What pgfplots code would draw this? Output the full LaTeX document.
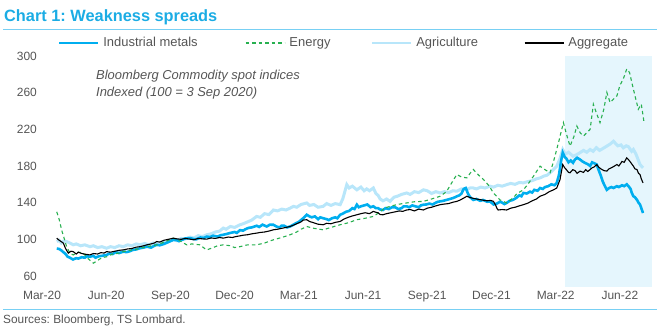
\documentclass[border=0pt]{standalone}
\usepackage{fontspec}
\setmainfont{Liberation Sans}
\usepackage{pgfplots}
\pgfplotsset{compat=1.18}
\definecolor{titleblue}{RGB}{27,172,228}
\definecolor{rulebl}{RGB}{120,208,244}
\definecolor{metals}{RGB}{0,174,239}
\definecolor{energy}{RGB}{40,176,80}
\definecolor{agri}{RGB}{184,230,250}
\definecolor{shade}{RGB}{229,246,253}
\definecolor{txt}{RGB}{85,85,85}
\begin{document}
\frenchspacing
\begin{tikzpicture}
\useasboundingbox (0,0) rectangle (660bp,327bp);
\node[anchor=base west, inner sep=0pt, text=titleblue, font=\fontsize{16.4}{20}\selectfont\bfseries] at (4bp,305.3bp) {Chart 1: Weakness spreads};
\draw[rulebl, line width=1.2bp] (3bp,297.7bp) -- (657bp,297.7bp);
\draw[rulebl, line width=1.2bp] (3bp,17.5bp) -- (657bp,17.5bp);
\node[anchor=base west, inner sep=0pt, text=txt, font=\fontsize{11.9}{13}\selectfont] at (3bp,3.5bp) {Sources: Bloomberg, TS Lombard.};
\begin{axis}[
  at={(42bp,40bp)}, anchor=south west,
  scale only axis, width=610bp, height=231bp,
  xmin=0, xmax=28.5, ymin=48, ymax=300,
  axis line style={draw=none},
  major tick length=0pt,
  xtick={0,3,6,9,12,15,18,21,24,27},
  xticklabels={Mar-20,Jun-20,Sep-20,Dec-20,Mar-21,Jun-21,Sep-21,Dec-21,Mar-22,Jun-22},
  ytick={60,100,140,180,220,260,300},
  /pgf/number format/assume math mode=true,
  tick label style={text=txt, font=\fontsize{12}{14}\selectfont},
  xticklabel style={anchor=north, inner sep=0pt, yshift=-3.5bp},
  yticklabel style={anchor=east, inner sep=0pt, xshift=-5bp},
  clip=false,
  legend columns=4,
  legend style={draw=none, fill=none, at={(0.0262,1.0563)}, anchor=west,
    inner xsep=0pt, inner ysep=0pt, text=txt, font=\fontsize{13}{15}\selectfont,
    nodes={inner xsep=4.2bp, inner ysep=1bp},
    /tikz/every odd column/.append style={column sep=0bp},
    /tikz/every even column/.append style={column sep=37.6bp}},
]
\addplot[draw=none, fill=shade, forget plot] coordinates {(24.45,48) (28.5,48) (28.5,300) (24.45,300)} -- cycle;
% Agriculture
\addplot[agri, line width=3bp, forget plot] coordinates {
(0.69,97.6)(0.8,99)(0.9,96)(1.0,98)(1.15,97.6)(1.3,96)(1.46,94)(1.6,95)(1.8,93)(2.0,94)(2.24,92)(2.4,93)(2.6,91)(2.8,92)(3.02,90.3)(3.2,92)(3.4,91)(3.6,93)(3.8,92)(4.0,94)(4.2,93)(4.4,95)(4.58,94)(4.8,95.5)(5.0,94)(5.2,96)(5.36,95)(5.6,97)(5.8,96.5)(6.0,99)(6.14,99.5)(6.3,98.5)(6.5,101)(6.7,100.5)(6.92,102.4)(7.1,101.5)(7.3,104)(7.5,103)(7.7,105)(7.9,106)(8.1,108)(8.3,109)(8.47,112.3)(8.6,111)(8.8,114)(9.0,113)(9.25,115.9)(9.4,117)(9.6,119)(9.8,121)(10.03,125)(10.2,124)(10.4,128)(10.6,127)(10.81,132)(11.0,131)(11.2,133)(11.4,132)(11.59,134)(11.75,136)(11.9,135)(12.1,138)(12.37,139.7)(12.5,137)(12.7,138)(12.9,135)(13.14,136)(13.3,139)(13.5,137)(13.7,139)(13.93,137.8)(14.05,144)(14.1,148)(14.24,159.7)(14.35,156)(14.5,158)(14.71,154)(14.9,157)(15.05,153)(15.17,155)(15.3,153)(15.48,156)(15.6,150)(15.7,148)(15.8,144)(15.93,142)(16.1,144)(16.26,141.4)(16.45,146)(16.6,147)(16.8,149)(17.04,150.6)(17.2,149)(17.4,152)(17.6,151)(17.82,154)(18.0,153)(18.2,150)(18.4,152)(18.6,150.6)(18.8,152)(19.0,151)(19.2,153)(19.38,152.5)(19.6,155)(19.8,154)(20.0,156)(20.15,156)(20.3,155)(20.5,157)(20.7,156)(20.93,158)(21.1,157)(21.3,159)(21.5,158)(21.71,159.7)(21.9,161)(22.1,160)(22.3,162)(22.49,161.6)(22.7,163)(22.9,164)(23.1,166)(23.27,167)(23.45,169)(23.6,170)(23.8,174)(24.05,179.8)(24.2,188)(24.33,198)(24.45,193)(24.6,195)(24.81,190.7)(24.95,192)(25.1,194)(25.3,197)(25.45,195)(25.61,198)(25.75,196)(25.9,200)(26.05,197)(26.2,199)(26.39,201.7)(26.55,204)(26.7,207)(26.9,202)(27.05,203)(27.16,199.8)(27.3,202)(27.4,201)(27.55,196)(27.63,198)(27.75,193)(27.8,190)(27.94,181.6)(28.08,178)};
% Industrial metals
\addplot[metals, line width=2.6bp, forget plot] coordinates {
(0.69,90)(0.8,89.5)(0.9,88)(1.0,86)(1.1,84)(1.2,81)(1.3,80)(1.45,78)(1.6,79.5)(1.7,79)(1.85,80.5)(2.0,80)(2.1,81.5)(2.24,81)(2.4,82)(2.5,80)(2.65,81.5)(2.8,82)(3.02,83)(3.15,84.5)(3.3,84)(3.45,86)(3.6,85)(3.8,86.6)(3.95,86)(4.1,87)(4.25,88.5)(4.4,89)(4.58,90.3)(4.75,91)(4.9,92)(5.1,91)(5.25,93)(5.36,94)(5.5,93.5)(5.7,95)(5.85,96.5)(6.0,98)(6.14,99.5)(6.3,99)(6.4,98)(6.55,99.5)(6.7,101)(6.92,101.3)(7.05,100.5)(7.2,100)(7.4,102)(7.55,101.5)(7.7,103)(7.85,102.5)(8.0,104)(8.2,103)(8.35,104.5)(8.47,105)(8.65,106)(8.8,107)(9.0,108)(9.1,107)(9.25,110)(9.4,109.5)(9.5,111)(9.65,112.5)(9.8,113)(10.03,114.8)(10.15,113.5)(10.3,116)(10.4,115)(10.5,114)(10.65,116)(10.81,115.9)(10.95,114)(11.1,113)(11.2,115)(11.3,115)(11.45,113)(11.59,114)(11.75,116)(11.9,118)(12.0,119)(12.1,121)(12.25,124)(12.37,126.8)(12.5,125)(12.6,124)(12.75,125)(12.9,122)(13.0,124)(13.14,123)(13.3,122)(13.4,121)(13.55,123)(13.7,124)(13.8,123)(13.93,126.8)(14.05,128)(14.2,130)(14.35,131)(14.5,134)(14.6,133)(14.71,137.8)(14.8,135)(14.9,136)(15.05,137)(15.2,138)(15.35,135)(15.48,136)(15.6,134)(15.7,134)(15.8,132.5)(15.93,132)(16.05,134)(16.2,133)(16.35,135)(16.5,135)(16.65,133)(16.8,134)(16.9,136)(17.04,136)(17.15,135)(17.3,137)(17.45,136)(17.6,135)(17.7,137)(17.82,137.8)(17.95,138)(18.1,139)(18.25,138)(18.4,140)(18.5,141)(18.6,141.4)(18.75,142)(18.9,143)(19.05,144)(19.2,145)(19.3,146)(19.38,146.9)(19.5,148)(19.6,150)(19.7,155)(19.8,156)(19.9,150)(20.0,146)(20.15,143)(20.3,144)(20.47,142)(20.6,143)(20.8,141)(20.93,141.4)(21.05,139)(21.1,138)(21.25,139)(21.4,141)(21.5,140)(21.6,138.5)(21.71,139.7)(21.85,142)(22.0,143)(22.15,145)(22.3,148)(22.4,147)(22.49,150.6)(22.65,150)(22.8,152)(22.9,151)(23.0,154)(23.15,153)(23.27,156)(23.4,155)(23.5,157)(23.65,158)(23.8,160)(23.95,159)(24.05,161.6)(24.15,170)(24.25,185)(24.33,194.5)(24.42,190)(24.5,188)(24.6,184)(24.7,186)(24.81,183.5)(24.9,187)(25.0,189)(25.14,187)(25.25,185)(25.4,183)(25.5,182)(25.61,180)(25.7,184)(25.8,183)(25.92,181.6)(26.0,176)(26.1,170)(26.2,163)(26.3,158)(26.39,154)(26.5,156)(26.6,157)(26.7,156)(26.86,158)(26.95,157)(27.1,159)(27.2,158)(27.32,160)(27.4,158)(27.5,155)(27.55,151)(27.63,147)(27.7,146)(27.8,143)(27.87,140)(27.94,138)(28.0,134)(28.08,128.7)};
% Energy
\addplot[energy, line width=1.1bp, dash pattern=on 3.5bp off 3bp, forget plot] coordinates {
(0.69,130)(0.8,122)(0.92,110)(1.05,100)(1.15,92)(1.3,85)(1.46,83)(1.7,86)(1.93,85)(2.1,80)(2.4,74)(2.6,77)(2.8,80)(3.02,81)(3.3,84)(3.6,85)(3.8,86.6)(4.1,88)(4.4,89)(4.58,90.3)(4.9,92)(5.36,94)(5.6,96)(5.9,99)(6.14,101.3)(6.4,99)(6.76,94)(7.0,95)(7.38,94)(7.6,90)(7.7,88.5)(8.0,91)(8.2,93)(8.47,94)(8.8,93)(9.0,91)(9.25,92)(9.6,94)(10.03,94)(10.4,96)(10.81,99.5)(11.2,102)(11.59,105)(11.9,108)(12.1,111)(12.37,114)(12.7,112)(13.14,110.4)(13.5,113)(13.93,115.9)(14.3,118)(14.71,121.4)(15.1,123)(15.48,125)(15.8,130)(16.0,134)(16.26,136)(16.6,138)(17.04,139.7)(17.4,141)(17.82,141.4)(18.2,144)(18.6,147)(18.9,152)(19.1,160)(19.38,170.7)(19.6,168)(19.85,167)(20.0,172)(20.15,176.2)(20.4,170)(20.63,165.2)(20.9,158)(21.09,150.6)(21.4,143)(21.71,139.7)(22.0,145)(22.2,150)(22.49,154)(22.7,160)(22.96,168.8)(23.27,179.8)(23.5,176)(23.74,172.6)(23.9,185)(24.13,205.4)(24.36,227.3)(24.5,215)(24.67,201.7)(24.85,212)(24.99,223.6)(25.15,216)(25.3,212.7)(25.61,220)(25.76,247.4)(25.9,238)(26.07,227.3)(26.25,242)(26.39,260.2)(26.54,249.3)(26.86,256.5)(27.0,268)(27.16,275)(27.32,285.8)(27.45,282)(27.63,263.8)(27.86,241.9)(28.0,247.4)(28.13,227.3)};
% Aggregate
\addplot[black, line width=1.1bp, forget plot] coordinates {
(0.69,101.3)(0.8,99)(0.9,97.5)(1.0,95.8)(1.1,90)(1.23,84.9)(1.35,87)(1.46,86.6)(1.6,84)(1.7,86)(1.8,85)(1.95,84)(2.1,83.5)(2.24,83)(2.4,84.5)(2.6,84)(2.75,85.5)(2.9,85)(3.02,86.6)(3.2,86)(3.4,87)(3.6,88)(3.8,88.5)(4.0,89.5)(4.2,90)(4.4,91.5)(4.58,92)(4.75,93)(4.9,94)(5.1,95)(5.25,96)(5.36,97.6)(5.5,97)(5.7,99)(5.9,100)(6.14,101.3)(6.3,100.5)(6.5,100)(6.7,101)(6.92,100.2)(7.1,99.5)(7.3,101)(7.5,100.5)(7.7,100.2)(7.9,101.5)(8.1,101)(8.3,102)(8.47,101.3)(8.7,102.5)(8.9,102)(9.05,103)(9.25,103.8)(9.4,104.5)(9.6,105)(9.8,106)(10.03,106.8)(10.2,107.5)(10.4,108)(10.6,109)(10.81,110.4)(11.0,111)(11.2,112)(11.4,113)(11.59,114)(11.75,115.5)(11.9,117)(12.1,119)(12.2,121)(12.37,121.4)(12.5,119.5)(12.7,118)(12.9,116.5)(13.14,115.9)(13.3,117.5)(13.5,117)(13.7,118.5)(13.93,119.5)(14.1,122)(14.3,124)(14.5,125.5)(14.71,126.8)(14.9,128)(15.1,129)(15.3,128)(15.48,130.5)(15.6,129.5)(15.7,129)(15.8,127)(15.93,126.8)(16.1,128)(16.3,129)(16.5,130)(16.7,131)(16.85,130.5)(17.04,132)(17.2,132.5)(17.4,131)(17.6,133)(17.82,132)(18.0,134)(18.2,135)(18.4,136.5)(18.6,137.8)(18.8,138.5)(19.0,139)(19.2,140.5)(19.38,141.4)(19.55,143)(19.7,145)(19.85,147)(19.95,146)(20.1,145)(20.3,144)(20.47,143.3)(20.65,142.5)(20.8,142)(20.95,142.5)(21.09,141.4)(21.2,137)(21.25,134)(21.31,132)(21.5,132.5)(21.71,132)(21.9,134)(22.1,135)(22.3,136.5)(22.49,137.8)(22.7,139.5)(22.9,142)(23.1,144)(23.27,147)(23.5,149)(23.7,152)(23.9,154)(24.05,156)(24.2,165)(24.33,181.6)(24.42,178)(24.5,176)(24.6,173)(24.67,172.6)(24.8,176)(24.9,175)(25.0,172)(25.14,174.4)(25.3,173)(25.4,176)(25.5,174)(25.61,176.2)(25.7,178)(25.8,179)(25.92,181.6)(26.0,179)(26.1,177)(26.25,175)(26.39,174.4)(26.5,177)(26.6,178)(26.75,180)(26.86,181.6)(26.95,180)(27.1,185)(27.2,184)(27.32,188.9)(27.4,187)(27.5,184)(27.63,179.8)(27.7,177)(27.8,176)(27.87,172)(27.94,170.7)(28.0,166)(28.08,161.6)};
% legend
\pgfplotsset{legend image code/.code={\draw[#1] (0bp,0bp) -- (39bp,0bp);}}
\addlegendimage{metals, line width=2bp}
\addlegendentry{\makebox[100bp][l]{Industrial metals}}
\addlegendimage{energy, line width=1.1bp, dash pattern=on 3.5bp off 3bp}
\addlegendentry{\makebox[40bp][l]{Energy}}
\addlegendimage{agri, line width=1.8bp}
\addlegendentry{\makebox[66bp][l]{Agriculture}}
\addlegendimage{black, line width=1.1bp}
\addlegendentry{\makebox[60bp][l]{Aggregate}}
\node[anchor=north west, inner sep=0pt, align=left, text=txt, font=\fontsize{13}{17}\selectfont\itshape] at (rel axis cs:0.0885,0.939) {Bloomberg Commodity spot indices\\Indexed (100 = 3 Sep 2020)};
\end{axis}
\end{tikzpicture}
\end{document}
